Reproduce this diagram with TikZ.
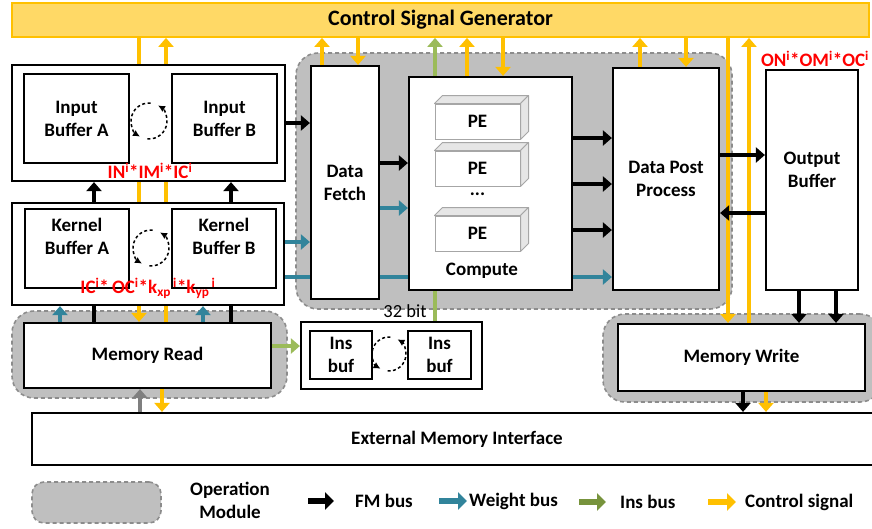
\documentclass[tikz,border=0pt]{standalone}
\usepackage{fontspec}
\setmainfont{Carlito}
\usetikzlibrary{arrows.meta,calc}
\pgfdeclarelayer{ops}
\pgfdeclarelayer{wires}
\pgfsetlayers{ops,wires,main}

\definecolor{ctlY}{HTML}{FFC000}
\definecolor{csgFill}{HTML}{FFD966}
\definecolor{wtT}{HTML}{31849B}
\definecolor{insG}{HTML}{9BBB59}
\definecolor{insL}{HTML}{77933C}
\definecolor{opFill}{HTML}{BFBFBF}
\definecolor{opLine}{HTML}{8C8C8C}
\definecolor{peSide}{HTML}{E6E6E6}
\definecolor{peLine}{HTML}{A6A6A6}
\definecolor{extG}{HTML}{7F7F7F}

\begin{document}
\begin{tikzpicture}[x=1pt,y=-1pt,
  txt/.style={font=\fontsize{19}{23}\selectfont\bfseries, align=center, inner sep=0pt},
  box/.style={draw, line width=2.2pt, fill=white, inner sep=0pt, txt},
  inbox/.style={box, line width=2pt},
  opmod/.style={draw=opLine, fill=opFill, dash pattern=on 4pt off 3pt, line width=1.6pt, rounded corners=22pt, inner sep=0pt},
  bus/.style={line width=4.5pt, -{Triangle[length=9pt,width=15pt]}},
  fm/.style={bus, black},
  wt/.style={bus, wtT},
  ins/.style={bus, insG, line width=4pt},
  ctl/.style={bus, ctlY},
  swap/.style={line width=1.5pt, dash pattern=on 3pt off 2.5pt, -{Latex[length=7pt,width=7pt]}},
  lbl/.style={text=red, font=\fontsize{19}{23}\selectfont\bfseries, inner sep=0pt},
  key/.style={line width=6pt, -{Triangle[length=9pt,width=17pt]}},
  pe/.style={draw=peLine, fill=white, line width=1pt, minimum width=85pt, minimum height=35pt, txt},
  peface/.style={draw=peLine, fill=peSide, line width=1pt, line join=round}
]
\useasboundingbox (0,0) rectangle (872,528);

% column and row positions of the buses
\path (94,0) coordinate (xfa) (231,0) coordinate (xfb)
      (139,0) coordinate (xca) (166,0) coordinate (xcb)
      (60,0) coordinate (xwa) (203,0) coordinate (xwb)
      (140,0) coordinate (xga) (162,0) coordinate (xcy)
      (322,0) coordinate (xdu) (358,0) coordinate (xdd)
      (435,0) coordinate (xins)
      (467,0) coordinate (xcu) (503,0) coordinate (xcd)
      (640,0) coordinate (xpu) (686,0) coordinate (xpd)
      (728,0) coordinate (xmd) (749,0) coordinate (xmu)
      (799,0) coordinate (xoa) (836,0) coordinate (xob)
      (743,0) coordinate (xwf) (766,0) coordinate (xwc);
\path (0,123) coordinate (yfa) (0,242) coordinate (ywa) (0,277) coordinate (ywl)
      (0,163) coordinate (yfb) (0,208) coordinate (ywb)
      (0,138) coordinate (yc1) (0,184) coordinate (yc2) (0,230) coordinate (yc3)
      (0,155) coordinate (yo1) (0,213) coordinate (yo2) (0,346) coordinate (yins);

% control signal generator
\node[draw=ctlY, fill=csgFill, line width=1.8pt, minimum width=857pt, minimum height=34pt,
      inner sep=0pt, font=\fontsize{22}{26}\selectfont\bfseries] (csg) at (440.5,20) {Control Signal Generator};

% input buffers
\node[box, minimum width=273pt, minimum height=116pt] (ibo) at (148.5,123) {};
\node[inbox, minimum width=105pt, minimum height=89pt] (iba) at (76.5,118.5) {Input\\Buffer A};
\node[inbox, minimum width=105pt, minimum height=89pt] (ibb) at (224.5,118.5) {Input\\Buffer B};

% kernel buffers
\node[box, minimum width=272pt, minimum height=102pt] (kbo) at (148,254) {};
\node[inbox, minimum width=104pt, minimum height=79pt] (kba) at (77,248.5) {};
\node[txt] (kbat) at (77,236.5) {Kernel\\Buffer A};
\node[inbox, minimum width=104pt, minimum height=79pt] (kbb) at (224,248.5) {};
\node[txt] (kbbt) at (224,236.5) {Kernel\\Buffer B};

% memory read / write
\node[box, minimum width=247pt, minimum height=65pt] (mr) at (147.5,355.5) {Memory Read};
\node[box, minimum width=247pt, minimum height=67pt] (mw) at (741.5,357.5) {Memory Write};

% data path
\node[box, minimum width=68pt, minimum height=233pt] (df) at (345,182.5) {Data\\Fetch};
\node[box, minimum width=163pt, minimum height=213pt] (cp) at (490.5,183.5) {};
\node[txt] (cpt) at (482,271) {Compute};
\node[box, minimum width=106pt, minimum height=222pt] (dpp) at (666,179) {Data Post\\Process};
\node[box, minimum width=92pt, minimum height=220pt] (ob) at (812,180) {};
\node[txt] (obt) at (812,170) {Output\\Buffer};

% processing elements
\foreach \nm/\yy in {pe1/121.5, pe2/168.5, pe3/233.5}{
  \node[pe] (\nm) at (477.5,\yy) {PE};
  \draw[peface] (\nm.north west) -- ([shift={(8,-8)}]\nm.north west)
     -- ([shift={(8,-8)}]\nm.north east) -- (\nm.north east) -- cycle;
  \draw[peface] (\nm.north east) -- ([shift={(8,-8)}]\nm.north east)
     -- ([shift={(8,-8)}]\nm.south east) -- (\nm.south east) -- cycle;
}
\node[txt] (pedots) at (477.5,194) {...};

% instruction buffers
\node[box, minimum width=181pt, minimum height=67pt] (insb) at (391.5,355.5) {};
\node[inbox, minimum width=62pt, minimum height=48pt] (ins1) at (341,355) {Ins\\buf};
\node[inbox, minimum width=63pt, minimum height=48pt] (ins2) at (439.5,355) {Ins\\buf};

% external memory
\node[box, minimum width=850pt, minimum height=52pt] (emi) at (457,439) {External Memory Interface};

% operation modules
\begin{pgfonlayer}{ops}
\node[opmod, minimum width=275pt, minimum height=87pt] (opmr) at (149.5,354.5) {};
\node[opmod, minimum width=436pt, minimum height=256pt] (opc) at (514,181) {};
\node[opmod, minimum width=279pt, minimum height=88pt] (opmw) at (742.5,358) {};
\end{pgfonlayer}

% buses running behind the boxes
\begin{pgfonlayer}{wires}
\draw[ctl] (csg.south -| xca) -- (mr.north -| xca);
\draw[ctl] (mr.north -| xcb) -- (csg.south -| xcb);
\draw[fm] (mr.north -| xfa) -- (ibo.south -| xfa);
\draw[fm] (mr.north -| xfb) -- (ibo.south -| xfb);
\draw[ins] (insb.north -| xins) -- (csg.south -| xins);
\draw[wt] (kbo.east |- ywl) -- (dpp.west |- ywl);
\end{pgfonlayer}

% control signals
\draw[ctl] (df.north -| xdu) -- (csg.south -| xdu);
\draw[ctl] (csg.south -| xdd) -- (df.north -| xdd);
\draw[ctl] (cp.north -| xcu) -- (csg.south -| xcu);
\draw[ctl] (csg.south -| xcd) -- (cp.north -| xcd);
\draw[ctl] (dpp.north -| xpu) -- (csg.south -| xpu);
\draw[ctl] (csg.south -| xpd) -- (dpp.north -| xpd);
\draw[ctl] (csg.south -| xmd) -- (mw.north -| xmd);
\draw[ctl] (mw.north -| xmu) -- (csg.south -| xmu);
\draw[ctl] (mr.south -| xcy) -- (emi.north -| xcy);
\draw[ctl] (mw.south -| xwc) -- (emi.north -| xwc);

% feature map and weight buses
\draw[fm] (ibo.east |- yfa) -- (df.west |- yfa);
\draw[wt] (kbo.east |- ywa) -- (df.west |- ywa);
\draw[fm] (df.east |- yfb) -- (cp.west |- yfb);
\draw[wt] (df.east |- ywb) -- (cp.west |- ywb);
\draw[fm] (cp.east |- yc1) -- (dpp.west |- yc1);
\draw[fm] (cp.east |- yc2) -- (dpp.west |- yc2);
\draw[fm] (cp.east |- yc3) -- (dpp.west |- yc3);
\draw[fm] (dpp.east |- yo1) -- (ob.west |- yo1);
\draw[fm] (ob.west |- yo2) -- (dpp.east |- yo2);
\draw[wt] (mr.north -| xwa) -- (kbo.south -| xwa);
\draw[wt] (mr.north -| xwb) -- (kbo.south -| xwb);
\draw[fm] (ob.south -| xoa) -- (mw.north -| xoa);
\draw[fm] (ob.south -| xob) -- (mw.north -| xob);
\draw[fm] (mw.south -| xwf) -- (emi.north -| xwf);
\draw[bus, extG] (emi.north -| xga) -- (mr.south -| xga);
\draw[ins] (mr.east |- yins) -- (insb.west |- yins);

% ping-pong swaps
\coordinate (swi) at (149,121);
\coordinate (swk) at (151,248);
\coordinate (sws) at (389,354);
\foreach \c/\r in {swi/18pt, swk/18pt, sws/17pt}{
  \draw[swap] ($(\c)+(-95:\r)$) arc[start angle=-95, end angle=60, radius=\r];
  \draw[swap] ($(\c)+(85:\r)$) arc[start angle=85, end angle=240, radius=\r];
}

% buffer sizes
\node[lbl] (lblin) at (150,171) {IN\textsuperscript{i}*IM\textsuperscript{i}*IC\textsuperscript{i}};
\node[lbl] (lblk) at (148,288) {IC\textsuperscript{i}*\,OC\textsuperscript{i}*k\textsubscript{xp}\textsuperscript{\,i}*k\textsubscript{yp}\textsuperscript{\,i}};
\node[lbl] (lblo) at (815,59) {ON\textsuperscript{i}*OM\textsuperscript{i}*OC\textsuperscript{i}};
\node[font=\fontsize{18.5}{22}\selectfont, inner sep=0pt] (bits) at (405,311) {32 bit};

% legend
\node[opmod, rounded corners=12pt, minimum width=129pt, minimum height=41pt] (kop) at (96.5,502.5) {};
\node[txt] (kopt) at (230,500) {Operation\\Module};
\path (308,501) coordinate (k1a) (334,501) coordinate (k1b)
      (439,501) coordinate (k2a) (467,501) coordinate (k2b)
      (579,502) coordinate (k3a) (606,502) coordinate (k3b)
      (708,502) coordinate (k4a) (736,502) coordinate (k4b);
\draw[key, black] (k1a) -- (k1b);
\node[txt, anchor=west] (k1t) at (355,501) {FM bus};
\draw[key, wtT] (k2a) -- (k2b);
\node[txt, anchor=west] (k2t) at (469,501) {Weight bus};
\draw[key, insL] (k3a) -- (k3b);
\node[txt, anchor=west] (k3t) at (620,502) {Ins bus};
\draw[key, ctlY] (k4a) -- (k4b);
\node[txt, anchor=west] (k4t) at (745,502) {Control signal};
\end{tikzpicture}
\end{document}
